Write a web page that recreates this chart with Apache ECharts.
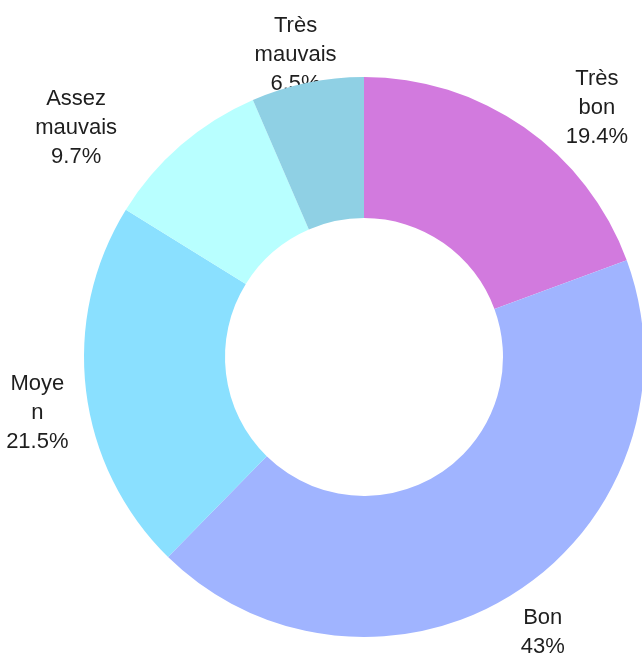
<!DOCTYPE html>
<html>
<head>
<meta charset="utf-8">
<script src="https://cdn.jsdelivr.net/npm/echarts@6/dist/echarts.min.js"></script>
<style>html,body{margin:0;padding:0;background:#fff;}#c{width:642px;height:655px;}</style>
</head>
<body>
<div id="c"></div>
<script>
const categories = ['Très bon', 'Bon', 'Moyen', 'Assez mauvais', 'Très mauvais'];
const labelTexts = ['Très\nbon', 'Bon', 'Moye\nn', 'Assez\nmauvais', 'Très\nmauvais'];
const values = [19.4, 43, 21.5, 9.7, 6.5];
const colors = ['#d27ade', '#a0b4ff', '#8ae0ff', '#b8ffff', '#8fd0e4'];
const labelShift = [[51, 12], [6, 8], [-11, 18], [-80, 12], [-4, 9]];

const chart = echarts.init(document.getElementById('c'), null, {renderer: 'canvas'});
const center = [364, 357];
chart.setOption({
  backgroundColor: '#ffffff',
  animation: false,
  series: [
    {
      type: 'pie',
      z: 1,
      silent: true,
      center: center,
      radius: [0, 630],
      startAngle: 90,
      itemStyle: {color: 'rgba(0,0,0,0)'},
      label: {
        show: true,
        position: 'inside',
        formatter: p => labelTexts[p.dataIndex] + '\n' + values[p.dataIndex] + '%',
        fontFamily: 'Liberation Sans',
        fontSize: 22,
        lineHeight: 29,
        color: '#1e1e1e',
        align: 'center'
      },
      labelLine: {show: false},
      labelLayout: p => ({dx: labelShift[p.dataIndex][0], dy: labelShift[p.dataIndex][1]}),
      emphasis: {disabled: true},
      data: categories.map((n, i) => ({name: n, value: values[i]}))
    },
    {
      type: 'pie',
      z: 2,
      silent: true,
      center: center,
      radius: [139, 280],
      startAngle: 90,
      label: {show: false},
      labelLine: {show: false},
      emphasis: {disabled: true},
      data: categories.map((n, i) => ({name: n, value: values[i], itemStyle: {color: colors[i]}}))
    }
  ]
});
</script>
</body>
</html>
